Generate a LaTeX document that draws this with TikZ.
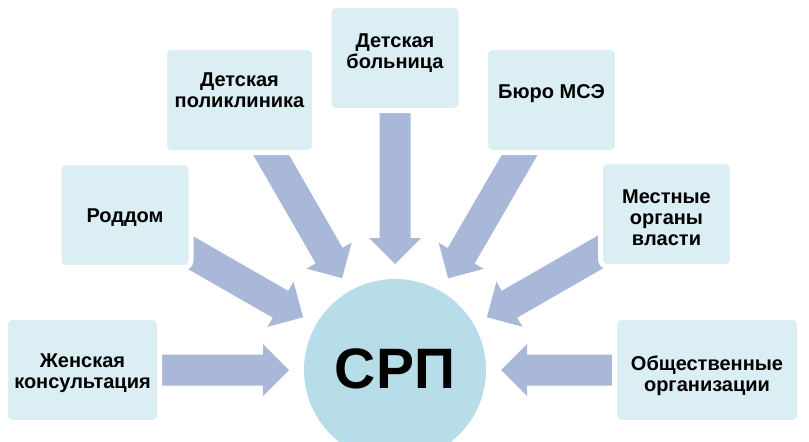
\documentclass[tikz,border=0pt]{standalone}
\usepackage{fontspec}
\setmainfont{Liberation Sans}
\usetikzlibrary{calc}
\definecolor{boxfill}{HTML}{DAEEF3}
\definecolor{circfill}{HTML}{B7DEE8}
\definecolor{arrowfill}{HTML}{A9B8D9}
\pgfdeclarelayer{bg}
\pgfsetlayers{bg,main}
\newcommand{\lbl}[1]{\begin{tabular}[t]{@{}c@{}}#1\end{tabular}}
\newcommand{\blockarrow}[2]{%
  \coordinate (tmph) at ($(#2)!26pt!(#1)$);
  \fill[arrowfill] ($(#1)!15.5pt!90:(#2)$) -- ($(tmph)!15.5pt!90:(#2)$) -- ($(tmph)!26pt!90:(#2)$) -- (#2) -- ($(tmph)!26pt!-90:(#2)$) -- ($(tmph)!15.5pt!-90:(#2)$) -- ($(#1)!15.5pt!-90:(#2)$) -- cycle;}
\begin{document}
\begin{tikzpicture}[x=1pt,y=-1pt,
  box/.style={rounded corners=7pt, fill=boxfill, draw=white, line width=5pt, inner sep=0pt},
  txt/.style={font=\fontsize{20}{21}\selectfont\bfseries, anchor=base, inner sep=0pt}]
\useasboundingbox (0,0) rectangle (809,442);
% boxes
\node[box, minimum width=154pt, minimum height=105pt] (b1) at (82.5,370) {};
\node[box, minimum width=132pt, minimum height=105pt] (b2) at (125,215) {};
\node[box, minimum width=150pt, minimum height=105pt] (b3) at (239.5,100) {};
\node[box, minimum width=132pt, minimum height=105pt] (b4) at (395,58) {};
\node[box, minimum width=132pt, minimum height=105pt] (b5) at (551.5,100) {};
\node[box, minimum width=132pt, minimum height=105pt] (b6) at (666.5,214) {};
\node[box, minimum width=185pt, minimum height=105pt] (b7) at (707,370) {};
% centre
\node[circle, fill=circfill, minimum size=182pt, inner sep=0pt] (c) at (395,370) {};
% labels
\node[txt] (l1) at (82.5,367) {\lbl{Женская\\консультация}};
\node[txt] (l2) at (125,222) {Роддом};
\node[txt] (l3) at (239.5,86) {\lbl{Детская\\поликлиника}};
\node[txt] (l4) at (395,47) {\lbl{Детская\\больница}};
\node[txt] (l5) at (551.5,98) {Бюро МСЭ};
\node[txt] (l6) at (666.5,203) {\lbl{Местные\\органы\\власти}};
\node[txt] (l7) at (707,370) {\lbl{Общественные\\организации}};
\node[font=\fontsize{57}{60}\selectfont\bfseries, anchor=base, inner sep=0pt] (lc) at (395,388) {СРП};
% arrow tips
\foreach \i in {1,...,7}{
  \coordinate (a\i) at ($(c.center)!106pt!(b\i.center)$);
}
\begin{pgfonlayer}{bg}
\fill[white] (0,0) rectangle (809,442);
\foreach \i in {1,...,7}{
  \blockarrow{b\i.center}{a\i}
}
\end{pgfonlayer}
\end{tikzpicture}
\end{document}
